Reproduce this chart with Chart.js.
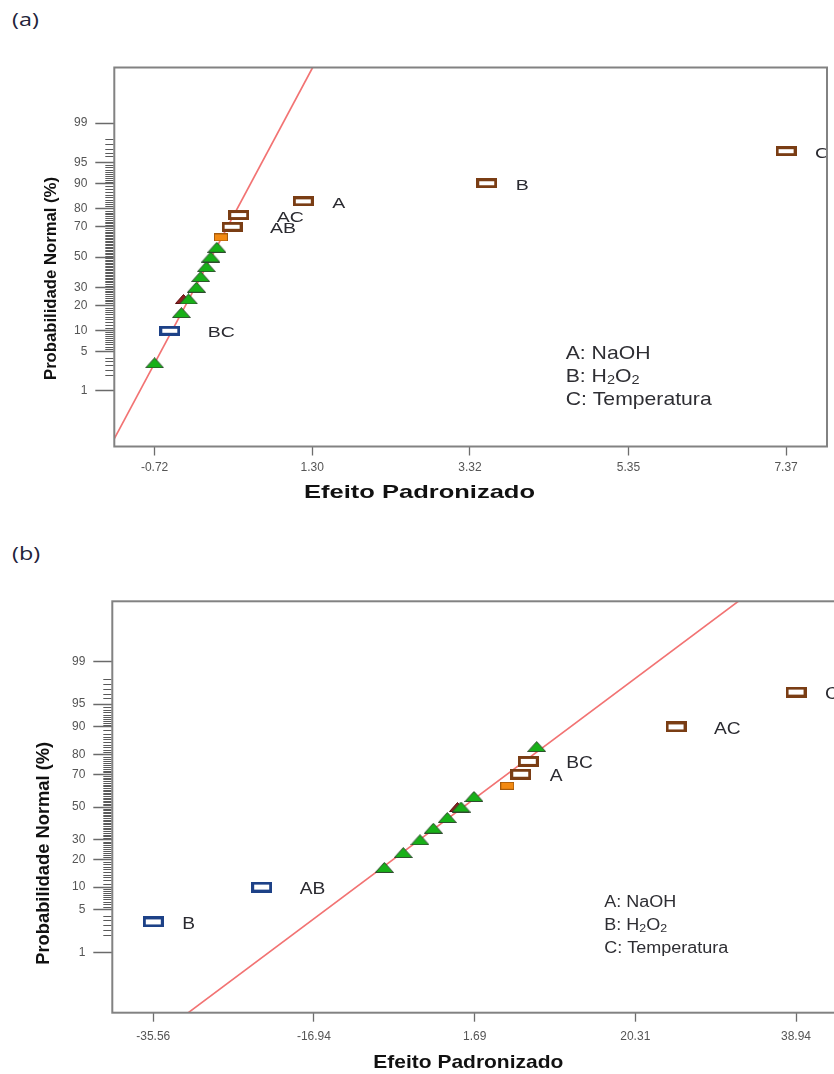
<!DOCTYPE html>
<html>
<head>
<meta charset="utf-8">
<script src="https://cdn.jsdelivr.net/npm/chart.js@4.4.1/dist/chart.umd.min.js"></script>
<style>
  html, body { margin:0; padding:0; background:#fff; overflow:hidden; width:834px; height:1074px; }
  .wrap { position:absolute; left:0; }
  #wa { top:0; width:834px; height:530px; }
  #wb { top:540px; width:850px; height:534px; }
  .tag { position:absolute; left:12px; font-family:'Open Sans','Noto Sans',sans-serif; font-size:18px; line-height:24px;
         color:#23233a; transform:scaleX(1.3); transform-origin:left top; }
</style>
</head>
<body>
<div class="tag" style="top:7px">(a)</div>
<div class="tag" style="top:541px">(b)</div>
<div class="wrap" id="wa"><canvas id="ca"></canvas></div>
<div class="wrap" id="wb"><canvas id="cb"></canvas></div>
<script>
// ---------------- shared axis data ----------------
const yTickPct    = [1, 5, 10, 20, 30, 50, 70, 80, 90, 95, 99];
const yTickLabels = ['1', '5', '10', '20', '30', '50', '70', '80', '90', '95', '99'];
const yRangePct   = [0.05, 99.95];
const xTitle = 'Efeito Padronizado';
const yTitle = 'Probabilidade Normal (%)';
const legendLines = [
  [['A: NaOH', 0]],
  [['B: H', 0], ['2', 1], ['O', 0], ['2', 1]],
  [['C: Temperatura', 0]]
];

// ---------------- chart (a) data ----------------
const a_xTicks      = [-0.72, 1.30, 3.32, 5.35, 7.37];
const a_xTickLabels = ['-0.72', '1.30', '3.32', '5.35', '7.37'];
const a_xRange      = [-1.236, 7.894];
const a_errX   = [-0.72, -0.376, -0.285, -0.184, -0.13, -0.057, 0.0, 0.078];
const a_errP   = [3.3, 16.7, 23.3, 30, 36.7, 43.3, 50, 56.7];
const a_posLabels = ['AB', 'AC', 'A', 'B', 'C'];
const a_posX   = [0.273, 0.358, 1.185, 3.535, 7.37];
const a_posP   = [70, 76.7, 83.3, 90, 96.7];
const a_negLabels = ['BC'];
const a_negX   = [-0.525];
const a_negP   = [10];
const a_smallX = [0.13];
const a_smallP = [63.3];
const a_hidX   = [-0.35];
const a_hidP   = [23.3];
const a_lineX  = [-1.289, 1.305];
const a_lineP  = [0.05, 99.95];

// ---------------- chart (b) data ----------------
const b_xTicks      = [-35.56, -16.94, 1.69, 20.31, 38.94];
const b_xTickLabels = ['-35.56', '-16.94', '1.69', '20.31', '38.94'];
const b_xRange      = [-40.31, 43.69];
const b_errX   = [-8.78, -6.58, -4.65, -3.10, -1.48, 0.11, 1.61, 8.88];
const b_errP   = [16.7, 23.3, 30, 36.7, 43.3, 50, 56.7, 83.3];
const b_posLabels = ['A', 'BC', 'AC', 'C'];
const b_posX   = [7.03, 7.91, 25.03, 38.94];
const b_posP   = [70, 76.7, 90, 96.7];
const b_negLabels = ['B', 'AB'];
const b_negX   = [-35.56, -23.0];
const b_negP   = [3.3, 10];
const b_smallX = [5.47];
const b_smallP = [63.3];
const b_hidX   = [-0.3];
const b_hidP   = [50];
const b_lineX  = [-31.5, 32.25];
const b_lineP  = [0.05, 99.95];

// ---------------- helpers ----------------
const FONT = "'Liberation Sans', Arial, sans-serif";
function probit(p) {
  const a=[-3.969683028665376e+01,2.209460984245205e+02,-2.759285104469687e+02,1.383577518672690e+02,-3.066479806614716e+01,2.506628277459239e+00];
  const b=[-5.447609879822406e+01,1.615858368580409e+02,-1.556989798598866e+02,6.680131188771972e+01,-1.328068155288572e+01];
  const c=[-7.784894002430293e-03,-3.223964580411365e-01,-2.400758277161838e+00,-2.549732539343734e+00,4.374664141464968e+00,2.938163982698783e+00];
  const d=[7.784695709041462e-03,3.224671290700398e-01,2.445134137142996e+00,3.754408661907416e+00];
  const pl=0.02425, ph=1-pl; let q, r;
  if (p < pl) { q=Math.sqrt(-2*Math.log(p)); return (((((c[0]*q+c[1])*q+c[2])*q+c[3])*q+c[4])*q+c[5])/((((d[0]*q+d[1])*q+d[2])*q+d[3])*q+1); }
  if (p <= ph) { q=p-0.5; r=q*q; return (((((a[0]*r+a[1])*r+a[2])*r+a[3])*r+a[4])*r+a[5])*q/(((((b[0]*r+b[1])*r+b[2])*r+b[3])*r+b[4])*r+1); }
  q=Math.sqrt(-2*Math.log(1-p)); return -(((((c[0]*q+c[1])*q+c[2])*q+c[3])*q+c[4])*q+c[5])/((((d[0]*q+d[1])*q+d[2])*q+d[3])*q+1);
}
const zOf = pct => probit(pct / 100);

// minor tick positions for the probability axis (axis decoration only)
const yMinorPct = [2, 2.5, 3, 3.5, 4, 96, 96.5, 97, 97.5, 98];
for (let p = 5.5; p < 10; p += 0.5) yMinorPct.push(p);
for (let p = 90.5; p < 95; p += 0.5) yMinorPct.push(p);
for (let p = 11; p < 90; p += 1) if (!yTickPct.includes(p)) yMinorPct.push(p);

function rectStyle(w, h, lw, stroke, fill) {
  const c = document.createElement('canvas'); c.width = w; c.height = h;
  const g = c.getContext('2d');
  g.fillStyle = fill; g.fillRect(0, 0, w, h);
  g.lineWidth = lw; g.strokeStyle = stroke; g.strokeRect(lw/2, lw/2, w-lw, h-lw);
  return c;
}
function triStyle(w, h, fill, stroke) {
  const c = document.createElement('canvas'); c.width = w; c.height = h;
  const g = c.getContext('2d');
  g.beginPath(); g.moveTo(0.5, h-0.5); g.lineTo(w/2, 0.5); g.lineTo(w-0.5, h-0.5); g.closePath();
  g.fillStyle = fill; g.fill(); g.lineWidth = 1; g.strokeStyle = stroke; g.stroke();
  return c;
}

function drawStretched(ctx, text, x, y, font, color, sx, align) {
  ctx.save();
  ctx.font = font; ctx.fillStyle = color; ctx.textBaseline = 'middle'; ctx.textAlign = 'left';
  const w = ctx.measureText(text).width * sx;
  const x0 = align === 'center' ? x - w/2 : x;
  ctx.translate(x0, y); ctx.scale(sx, 1); ctx.fillText(text, 0, 0);
  ctx.restore();
  return w;
}

function buildChart(canvasId, P) {
  const pts = (xs, ps) => xs.map((x, i) => ({ x: x, y: zOf(ps[i]) }));
  const rw = 21, rh = P.rectH;
  const brown = rectStyle(rw, rh, 3, '#7a3d14', '#ffffff');
  const blue  = rectStyle(rw, rh, 3, '#1d4187', '#ffffff');
  const orange = rectStyle(14, 8, 1, '#a55a0c', '#f28a12');
  const tri = triStyle(19, 11, '#18b018', '#2e4a2e');
  const redTri = triStyle(17, 10, '#8e1f1f', '#5a1010');

  const datasets = [
    { data: pts(P.posX, P.posP), labels: P.posLabels, pointStyle: brown, pointRadius: 6, order: 0 },
    { data: pts(P.negX, P.negP), labels: P.negLabels, pointStyle: blue, pointRadius: 6, order: 0 },
    { data: pts(P.smallX, P.smallP), pointStyle: orange, pointRadius: 5, order: 0 },
    { data: pts(P.errX, P.errP), pointStyle: tri, pointRadius: 6, order: 1 },
    { data: pts(P.hidX, P.hidP), pointStyle: redTri, pointRadius: 6, order: 2 },
    { data: pts(P.lineX, P.lineP), showLine: true, borderColor: 'rgb(242,115,115)', borderWidth: 1.6,
      pointRadius: 0, fill: false, order: 10 }
  ];

  const decor = {
    id: 'decor' + canvasId,
    afterDatasetsDraw(ch) {
      const ctx = ch.ctx, a = ch.chartArea;
      ctx.save();
      ctx.beginPath(); ctx.rect(a.left, a.top, a.right - a.left, a.bottom - a.top); ctx.clip();
      ch.data.datasets.forEach((ds, di) => {
        if (!ds.labels) return;
        const meta = ch.getDatasetMeta(di);
        meta.data.forEach((el, i) => {
          const t = ds.labels[i];
          const dx = t.length === 1 ? 29 : 38;
          drawStretched(ctx, t, el.x + dx, el.y + 2.5, P.labelFont + 'px ' + FONT, '#2a2a30', P.labelSx, 'left');
        });
      });
      ctx.restore();
      ctx.save();
      ctx.strokeStyle = '#828282'; ctx.lineWidth = 2;
      ctx.strokeRect(a.left, a.top, a.right - a.left, a.bottom - a.top);
      ctx.restore();
    },
    afterDraw(ch) {
      const ctx = ch.ctx, a = ch.chartArea, ys = ch.scales.y;
      ctx.save();
      ctx.strokeStyle = '#5a5a5a'; ctx.lineWidth = 1;
      ctx.beginPath();
      yMinorPct.forEach(p => {
        const y = Math.round(ys.getPixelForValue(zOf(p))) + 0.5;
        ctx.moveTo(a.left - 9, y); ctx.lineTo(a.left - 1, y);
      });
      ctx.stroke();
      ctx.restore();
      ctx.save();
      ctx.font = 'bold ' + P.xTitleFont + 'px ' + FONT;
      const sxX = P.xTitleW / ctx.measureText(xTitle).width;
      ctx.restore();
      drawStretched(ctx, xTitle, P.xTitlePos[0], P.xTitlePos[1], 'bold ' + P.xTitleFont + 'px ' + FONT, '#111', sxX, 'center');
      ctx.save();
      ctx.translate(P.yTitlePos[0], P.yTitlePos[1]); ctx.rotate(-Math.PI/2);
      ctx.font = 'bold ' + P.yTitleFont + 'px ' + FONT;
      const sxY = P.yTitleW / ctx.measureText(yTitle).width;
      drawStretched(ctx, yTitle, 0, 0, 'bold ' + P.yTitleFont + 'px ' + FONT, '#111', sxY, 'center');
      ctx.restore();
      const lf = P.legFont;
      ctx.save();
      ctx.font = lf + 'px ' + FONT;
      const sxL = P.legW / ctx.measureText('C: Temperatura').width;
      ctx.restore();
      legendLines.forEach((segs, li) => {
        let x = P.legPos[0];
        const y = P.legPos[1] + li * P.legStep;
        segs.forEach(([txt, sub]) => {
          const f = sub ? Math.round(lf * 0.68) : lf;
          x += drawStretched(ctx, txt, x, y + (sub ? lf * 0.22 : 0), f + 'px ' + FONT, '#2e2e33', sxL, 'left');
        });
      });
    }
  };

  return new Chart(document.getElementById(canvasId), {
    type: 'scatter',
    data: { datasets: datasets },
    options: {
      responsive: true, maintainAspectRatio: false, animation: false, events: [],
      layout: { padding: { top: P.padTop, right: P.padRight, left: 0, bottom: 0 } },
      plugins: { legend: { display: false }, tooltip: { enabled: false } },
      scales: {
        x: {
          type: 'linear', position: 'bottom', min: P.xRange[0], max: P.xRange[1],
          afterBuildTicks: s => { s.ticks = P.xTicks.map(v => ({ value: v })); },
          afterFit: s => { s.height = P.xAxisH; },
          grid: { drawOnChartArea: false, drawTicks: true, tickLength: 9, tickColor: '#6d6d6d', tickWidth: 1.3 },
          border: { display: false },
          ticks: { autoSkip: false, maxRotation: 0, padding: P.xTickPad, color: '#555',
                   font: { family: FONT, size: 12 }, callback: (v, i) => P.xTickLabels[i] }
        },
        y: {
          type: 'linear', position: 'left', min: zOf(yRangePct[0]), max: zOf(yRangePct[1]),
          afterBuildTicks: s => { s.ticks = yTickPct.map(p => ({ value: zOf(p) })); },
          afterFit: s => { s.width = P.yAxisW; },
          grid: { drawOnChartArea: false, drawTicks: true, tickLength: 19, tickColor: '#6a6a6a', tickWidth: 1.5 },
          border: { display: false },
          ticks: { autoSkip: false, padding: 8, color: '#555',
                   font: { family: FONT, size: 12 }, callback: (v, i) => yTickLabels[i] }
        }
      }
    },
    plugins: [decor]
  });
}

buildChart('ca', {
  xTicks: a_xTicks, xTickLabels: a_xTickLabels, xRange: a_xRange,
  errX: a_errX, errP: a_errP, posX: a_posX, posP: a_posP, posLabels: a_posLabels,
  negX: a_negX, negP: a_negP, negLabels: a_negLabels, smallX: a_smallX, smallP: a_smallP,
  hidX: a_hidX, hidP: a_hidP, lineX: a_lineX, lineP: a_lineP,
  rectH: 10, padTop: 67.5, padRight: 4.7, yAxisW: 114.3, xAxisH: 83.5, xTickPad: 5,
  labelFont: 15, labelSx: 1.3,
  xTitleFont: 19, xTitleW: 231, xTitlePos: [419.5, 493],
  yTitleFont: 17, yTitleW: 203, yTitlePos: [51, 278.5],
  legFont: 19, legW: 146, legPos: [565.7, 353.5], legStep: 23
});

buildChart('cb', {
  xTicks: b_xTicks, xTickLabels: b_xTickLabels, xRange: b_xRange,
  errX: b_errX, errP: b_errP, posX: b_posX, posP: b_posP, posLabels: b_posLabels,
  negX: b_negX, negP: b_negP, negLabels: b_negLabels, smallX: b_smallX, smallP: b_smallP,
  hidX: b_hidX, hidP: b_hidP, lineX: b_lineX, lineP: b_lineP,
  rectH: 11, padTop: 61.3, padRight: 13, yAxisW: 112.3, xAxisH: 61.3, xTickPad: 8,
  labelFont: 16, labelSx: 1.2,
  xTitleFont: 18.5, xTitleW: 190, xTitlePos: [468.3, 523],
  yTitleFont: 18, yTitleW: 223, yTitlePos: [44, 313.3],
  legFont: 16, legW: 124, legPos: [604.3, 362.7], legStep: 22.8
});
</script>
</body>
</html>
